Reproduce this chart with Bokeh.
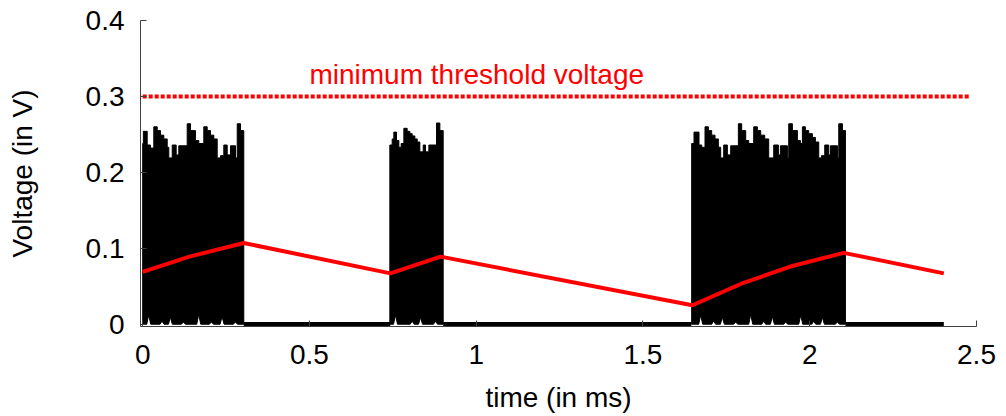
from bokeh.plotting import figure
from bokeh.models import Range1d, FixedTicker, Label, ColumnDataSource
from bokeh.embed import file_html
from bokeh.resources import INLINE

# ---------------- data ----------------
x_ticks = [0, 0.5, 1, 1.5, 2, 2.5]
x_tick_labels = ["0", "0.5", "1", "1.5", "2", "2.5"]
y_ticks = [0, 0.1, 0.2, 0.3, 0.4]
y_tick_labels = ["0", "0.1", "0.2", "0.3", "0.4"]

x_label = "time (in ms)"
y_label = "Voltage (in V)"

threshold_voltage = 0.3
threshold_span = [0.0, 2.48]
threshold_text = "minimum threshold voltage"

# red curve (averaged / stored voltage)
avg_time = [0.0, 0.14, 0.303, 0.743, 0.893, 1.648, 1.793, 1.942, 2.102, 2.402]
avg_volt = [0.069, 0.089, 0.107, 0.067, 0.089, 0.025, 0.053, 0.076, 0.094, 0.067]

# idle (zero-voltage) stretches between bursts
idle_start = [0.303, 0.901, 2.107]
idle_end = [0.742, 1.645, 2.402]
idle_level = 0.0

# burst envelopes: step edges (ms) and upper envelope (V)
burst1_edges = [0.0, 0.002, 0.0135, 0.0234, 0.0333, 0.0435, 0.0534, 0.0633, 0.0735, 0.0783,
                0.0885, 0.1004, 0.1082, 0.1334, 0.1433, 0.1583, 0.1682, 0.1832, 0.1934, 0.2033,
                0.2132, 0.2234, 0.2333, 0.2432, 0.2534, 0.2633, 0.2783, 0.2834, 0.2933, 0.3031]
burst1_tops = [0.238, 0.254, 0.236, 0.232, 0.260, 0.255, 0.249, 0.244, 0.233, 0.219,
               0.236, 0.223, 0.235, 0.264, 0.255, 0.242, 0.238, 0.260, 0.255, 0.249,
               0.244, 0.219, 0.222, 0.236, 0.223, 0.235, 0.219, 0.264, 0.255]
burst1_spike_x = [0.018, 0.058, 0.083, 0.122, 0.168, 0.206, 0.238, 0.278]
burst1_spike_h = [0.012, 0.004, 0.009, 0.003, 0.013, 0.003, 0.010, 0.003]

burst2_edges = [0.741, 0.748, 0.753, 0.761, 0.768, 0.775, 0.783, 0.793, 0.801, 0.808,
                0.816, 0.823, 0.831, 0.841, 0.848, 0.858, 0.881, 0.891, 0.901]
burst2_tops = [0.236, 0.244, 0.253, 0.242, 0.233, 0.238, 0.258, 0.254, 0.251, 0.248,
               0.244, 0.240, 0.227, 0.236, 0.227, 0.236, 0.265, 0.255]
burst2_spike_x = [0.758, 0.808, 0.833, 0.878]
burst2_spike_h = [0.012, 0.004, 0.009, 0.004]

burst3_edges = [1.646, 1.653, 1.668, 1.676, 1.686, 1.696, 1.706, 1.716, 1.726, 1.733,
                1.742, 1.753, 1.763, 1.786, 1.796, 1.808, 1.817, 1.832, 1.843, 1.853,
                1.865, 1.877, 1.892, 1.906, 1.912, 1.933, 1.937, 1.948, 1.963, 1.972,
                1.978, 1.987, 1.997, 2.008, 2.017, 2.027, 2.035, 2.045, 2.057, 2.062,
                2.083, 2.087, 2.098, 2.107]
burst3_tops = [0.238, 0.253, 0.236, 0.233, 0.260, 0.255, 0.249, 0.244, 0.233, 0.219,
               0.236, 0.223, 0.235, 0.264, 0.255, 0.242, 0.238, 0.260, 0.255, 0.249,
               0.244, 0.219, 0.236, 0.223, 0.235, 0.219, 0.264, 0.255, 0.242, 0.238,
               0.260, 0.255, 0.251, 0.246, 0.240, 0.219, 0.222, 0.236, 0.223, 0.235,
               0.219, 0.264, 0.255]
burst3_spike_x = [1.673, 1.712, 1.738, 1.778, 1.823, 1.862, 1.888, 1.928, 1.973, 2.012, 2.038, 2.083]
burst3_spike_h = [0.012, 0.004, 0.009, 0.003, 0.013, 0.004, 0.010, 0.003, 0.012, 0.004, 0.009, 0.003]

# ---------------- build ----------------
FONT = "Liberation Sans"
FS = "28px"


def burst_outline(edges, tops, spike_x, spike_h, half_w=0.006):
    xs, ys = [], []
    for i, t in enumerate(tops):
        xs += [edges[i], edges[i + 1]]
        ys += [t, t]
    xs.append(edges[-1])
    ys.append(0.0)
    for sx, sh in sorted(zip(spike_x, spike_h), reverse=True):
        xs += [sx + half_w, sx, sx - half_w]
        ys += [0.0, sh, 0.0]
    xs.append(edges[0])
    ys.append(0.0)
    return xs, ys


bursts = [
    burst_outline(burst1_edges, burst1_tops, burst1_spike_x, burst1_spike_h),
    burst_outline(burst2_edges, burst2_tops, burst2_spike_x, burst2_spike_h),
    burst_outline(burst3_edges, burst3_tops, burst3_spike_x, burst3_spike_h),
]
burst_src = ColumnDataSource(dict(xs=[b[0] for b in bursts], ys=[b[1] for b in bursts]))

p = figure(width=1000, height=416,
           x_range=Range1d(-0.0066, 2.5), y_range=Range1d(-0.003, 0.4),
           output_backend="svg", toolbar_location=None,
           min_border_left=140, min_border_right=24,
           min_border_top=20, min_border_bottom=90)
p.outline_line_color = None
p.grid.visible = False
p.background_fill_color = "white"
p.border_fill_color = "white"

# bursts
p.patches("xs", "ys", source=burst_src, fill_color="black", line_color="black", line_width=1)

# idle stretches
p.segment(x0=idle_start, y0=[idle_level] * len(idle_start), x1=idle_end,
          y1=[idle_level] * len(idle_end), line_color="black", line_width=4.5)

# red curve
p.line(avg_time, avg_volt, line_color="#ff0000", line_width=4)

# threshold line
p.line(threshold_span, [threshold_voltage] * len(threshold_span),
       line_color="#ff0000", line_width=4, line_dash="4 2")
p.add_layout(Label(x=0.5, y=0.329, text=threshold_text, text_color="#ff0000",
                   text_font=FONT, text_font_size=FS, text_baseline="alphabetic",
                   text_align="left"))

# axes
for ax in (p.xaxis, p.yaxis):
    ax.axis_line_color = "#404040"
    ax.axis_line_width = 1
    ax.major_tick_line_color = "#404040"
    ax.major_tick_in = 6
    ax.major_tick_out = 0
    ax.minor_tick_line_color = None
    ax.major_label_text_font = FONT
    ax.major_label_text_font_size = FS
    ax.major_label_text_color = "black"
    ax.axis_label_text_font = FONT
    ax.axis_label_text_font_size = FS
    ax.axis_label_text_font_style = "normal"
    ax.axis_label_text_color = "black"

p.xaxis.ticker = FixedTicker(ticks=x_ticks)
p.xaxis.major_label_overrides = dict(zip(x_ticks, x_tick_labels))
p.xaxis.major_label_standoff = 18
p.xaxis.axis_label = x_label
p.xaxis.axis_label_standoff = 15

p.yaxis.ticker = FixedTicker(ticks=y_ticks)
p.yaxis.major_label_overrides = dict(zip(y_ticks, y_tick_labels))
p.yaxis.major_label_standoff = 16
p.yaxis.axis_label = y_label
p.yaxis.axis_label_standoff = 45

open("out.html", "w").write(file_html(p, INLINE))
